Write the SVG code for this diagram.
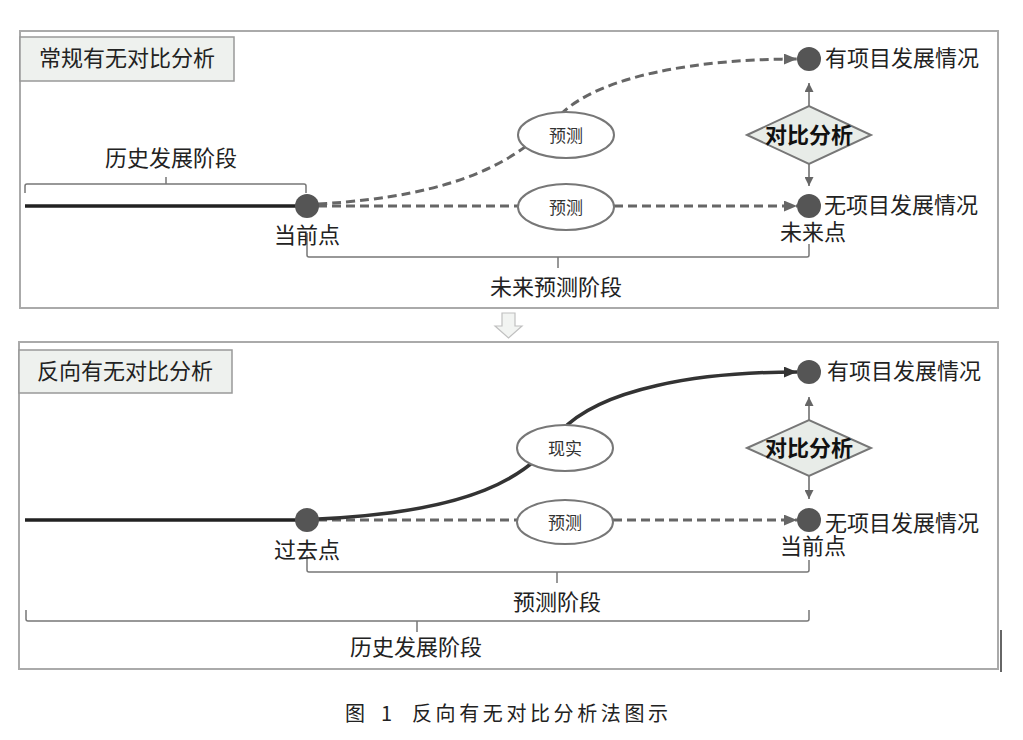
<svg xmlns="http://www.w3.org/2000/svg" width="1023" height="740" viewBox="0 0 1023 740">
<style>
.panel{fill:#ffffff;stroke:#aaaaaa;stroke-width:2}
.title{fill:#eef1ee;stroke:#999999;stroke-width:1.5}
.t{font-family:"Noto Sans CJK SC","Noto Sans",sans-serif;fill:#222222;font-size:22px}
.small{font-size:17px;text-anchor:middle;fill:#333333}
.bold{font-weight:bold;text-anchor:middle;fill:#111111}
.mid{text-anchor:middle}
.hist{stroke:#222222;stroke-width:3.5;fill:none}
.dash{stroke:#666666;stroke-width:3;stroke-dasharray:9 5;fill:none}
.solid{stroke:#333333;stroke-width:3.5;fill:none}
.dot{fill:#555555}
.ell{fill:#ffffff;stroke:#777777;stroke-width:2}
.dia{fill:#e8ece8;stroke:#777777;stroke-width:2}
.thin{stroke:#666666;stroke-width:1.5;fill:none}
.brk{stroke:#777777;stroke-width:1.5;fill:none}
.cap{font-family:"Noto Sans CJK SC",serif;font-size:20px;fill:#222222}
</style>
<defs>
<marker id="arrDash" viewBox="0 0 12 10" refX="12" refY="5" markerWidth="13" markerHeight="11" markerUnits="userSpaceOnUse" orient="auto"><path d="M0,0 L12,5 L0,10 z" fill="#666666"/></marker>
<marker id="arrSolid" viewBox="0 0 12 10" refX="12" refY="5" markerWidth="13" markerHeight="11" markerUnits="userSpaceOnUse" orient="auto"><path d="M0,0 L12,5 L0,10 z" fill="#333333"/></marker>
<marker id="arrSmall" viewBox="0 0 8 8" refX="8" refY="4" markerWidth="9" markerHeight="9" markerUnits="userSpaceOnUse" orient="auto"><path d="M0,0 L8,4 L0,8 z" fill="#666666"/></marker>
</defs>

<!-- Top panel -->
<g id="panel-top">
<rect class="panel" x="20" y="31" width="978" height="277"/>
<rect class="title" x="20" y="37" width="214" height="44"/>
<text class="t" x="39" y="66">常规有无对比分析</text>
</g>

<!-- Bottom panel -->
<g id="panel-bottom">
<rect class="panel" x="19" y="342" width="979" height="327"/>
<rect class="title" x="19" y="350" width="213" height="43"/>
<text class="t" x="37" y="379">反向有无对比分析</text>
<line x1="1001" y1="630" x2="1001" y2="672" stroke="#333333" stroke-width="1.5"/>
</g>

<g id="transition-arrow">
<polygon points="502,313 515,313 515,326 522,326 508.5,338 495,326 502,326" fill="#f2f4f2" stroke="#c0c0c0" stroke-width="1.2"/>
</g>

<!-- Connectors -->
<g id="connectors">
<line class="hist" x1="25" y1="206" x2="300" y2="206"/>
<path class="dash" d="M318,204 C460,196 520,160 560,115 C600,75 700,59 797,59" marker-end="url(#arrDash)"/>
<line class="dash" x1="318" y1="206" x2="518" y2="206"/>
<line class="dash" x1="614" y1="206" x2="797" y2="206" marker-end="url(#arrDash)"/>
<line class="thin" x1="809" y1="106" x2="809" y2="83" marker-end="url(#arrSmall)"/>
<line class="thin" x1="809" y1="164" x2="809" y2="186" marker-end="url(#arrSmall)"/>

<line class="hist" x1="25" y1="520" x2="300" y2="520"/>
<line class="dash" x1="318" y1="520" x2="518" y2="520"/>
<line class="dash" x1="613" y1="520" x2="797" y2="520" marker-end="url(#arrDash)"/>
<path class="solid" d="M318,519 C470,512 530,478 560,432 C600,388 700,372 797,372" marker-end="url(#arrSolid)"/>
<line class="thin" x1="809" y1="420" x2="809" y2="397" marker-end="url(#arrSmall)"/>
<line class="thin" x1="809" y1="476" x2="809" y2="499" marker-end="url(#arrSmall)"/>

<!-- brackets -->
<path class="brk" d="M25,193 L25,186 Q25,184 27,184 L304,184 Q306,184 306,186 L306,193 M166,184 L166,177"/>
<path class="brk" d="M307,233 L307,255 Q307,257 309,257 L807,257 Q809,257 809,255 L809,244 M558,257 L558,268"/>
<path class="brk" d="M307,555 L307,570 Q307,572 309,572 L807,572 Q809,572 809,570 L809,560 M557,572 L557,583"/>
<path class="brk" d="M26,610 L26,619 Q26,621 28,621 L807,621 Q809,621 809,619 L809,610 M417,621 L417,632"/>
</g>

<!-- Top panel nodes -->
<g id="top-current-point">
<circle class="dot" cx="307" cy="206" r="12"/>
<text class="t mid" x="307" y="243">当前点</text>
</g>
<g id="top-history-label"><text class="t mid" x="171" y="166">历史发展阶段</text></g>
<g id="top-future-label"><text class="t mid" x="556" y="295">未来预测阶段</text></g>
<g id="top-forecast-upper">
<ellipse class="ell" cx="566" cy="135" rx="48" ry="23"/>
<text class="t small" x="566" y="141.5">预测</text>
</g>
<g id="top-forecast-lower">
<ellipse class="ell" cx="566" cy="207" rx="48" ry="23"/>
<text class="t small" x="566" y="213.5">预测</text>
</g>
<g id="top-with-project">
<circle class="dot" cx="809" cy="59" r="12"/>
<text class="t" x="825" y="66">有项目发展情况</text>
</g>
<g id="top-without-project">
<circle class="dot" cx="809" cy="206" r="12"/>
<text class="t" x="824" y="213">无项目发展情况</text>
<text class="t mid" x="813" y="240">未来点</text>
</g>
<g id="top-compare">
<polygon class="dia" points="747,135 809,106 871,135 809,164"/>
<text class="t bold" x="809" y="143">对比分析</text>
</g>

<!-- Bottom panel nodes -->
<g id="bottom-past-point">
<circle class="dot" cx="307" cy="520" r="12"/>
<text class="t mid" x="307" y="558">过去点</text>
</g>
<g id="bottom-reality">
<ellipse class="ell" cx="565" cy="448" rx="48" ry="23"/>
<text class="t small" x="565" y="454.5">现实</text>
</g>
<g id="bottom-forecast">
<ellipse class="ell" cx="565" cy="522" rx="48" ry="22"/>
<text class="t small" x="565" y="528.5">预测</text>
</g>
<g id="bottom-with-project">
<circle class="dot" cx="809" cy="372" r="12"/>
<text class="t" x="827" y="379">有项目发展情况</text>
</g>
<g id="bottom-without-project">
<circle class="dot" cx="809" cy="520" r="12"/>
<text class="t" x="825" y="531">无项目发展情况</text>
<text class="t mid" x="813" y="554">当前点</text>
</g>
<g id="bottom-compare">
<polygon class="dia" points="747,448 809,420 871,448 809,476"/>
<text class="t bold" x="809" y="456">对比分析</text>
</g>
<g id="bottom-forecast-label"><text class="t mid" x="557" y="610">预测阶段</text></g>
<g id="bottom-history-label"><text class="t mid" x="416" y="655">历史发展阶段</text></g>

<g id="caption">
<text class="cap" x="345" y="721">图<tspan x="381">1</tspan></text>
<text class="cap" x="412" y="721" letter-spacing="3.6">反向有无对比分析法图示</text>
</g>
</svg>
